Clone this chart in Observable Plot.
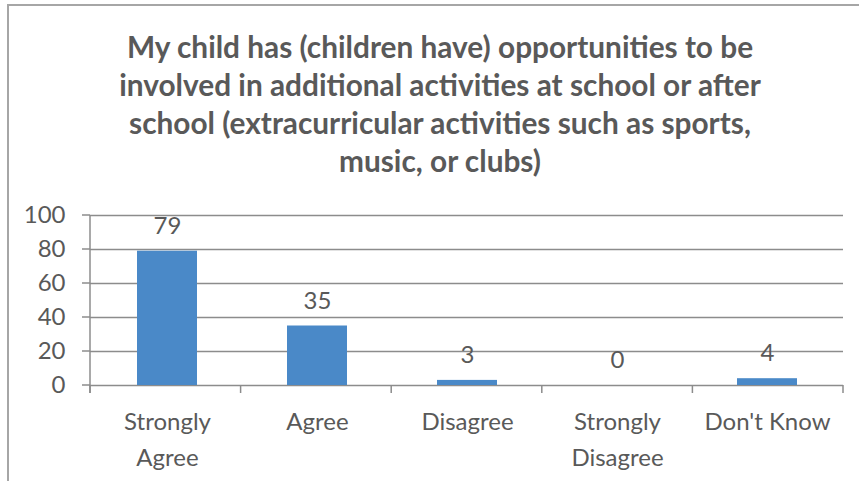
<!DOCTYPE html>
<html>
<head>
<meta charset="utf-8">
<script src="https://cdn.jsdelivr.net/npm/d3@7"></script>
<script src="https://cdn.jsdelivr.net/npm/@observablehq/plot@0.6"></script>
<style>
  html, body { margin: 0; padding: 0; background: #fff; }
  #wrap { position: relative; width: 859px; height: 481px; overflow: hidden; font-family: Lato, "Open Sans", sans-serif; }
  #border { position: absolute; left: 7px; top: 4px; width: 900px; height: 600px; border-left: 2px solid #a6a6a6; border-top: 2px solid #a6a6a6; box-sizing: border-box; }
  #title { position: absolute; left: 20px; width: 840px; top: 28px; text-align: center; color: #595959; font-weight: bold; font-size: 29.8px; line-height: 38px; white-space: nowrap; }
  #chart { position: absolute; left: 0; top: 0; }
</style>
</head>
<body>
<div id="wrap">
  <div id="border"></div>
  <div id="chart"></div>
  <div id="title"></div>
</div>
<script>
const titleLines = [
  "My child has (children have) opportunities to be",
  "involved in additional activities at school or after",
  "school (extracurricular activities such as sports,",
  "music, or clubs)"
];
const categories = ["Strongly Agree", "Agree", "Disagree", "Strongly Disagree", "Don't Know"];
const categoryLabels = ["Strongly\nAgree", "Agree", "Disagree", "Strongly\nDisagree", "Don't Know"];
const values = [79, 35, 3, 0, 4];
const yTicks = [0, 20, 40, 60, 80, 100];

document.getElementById("title").innerHTML = titleLines.map(t => `<div>${t}</div>`).join("");

const data = categories.map((c, i) => ({category: c, label: categoryLabels[i], value: values[i]}));

const gray = "#8c8c8c";
const textColor = "#595959";

// y-axis line, y ticks and x boundary ticks, drawn from the scales
const frameLines = (index, scales, values_, dims) => {
  const g = d3.create("svg:g");
  const x = scales.x, y = scales.y;
  const step = (dims.width - dims.marginLeft - dims.marginRight) / categories.length;
  const y0 = y(0), yTop = y(yTicks[yTicks.length - 1]);
  g.append("line").attr("x1", dims.marginLeft).attr("x2", dims.marginLeft)
    .attr("y1", yTop).attr("y2", y0 + 8).attr("stroke", gray).attr("stroke-width", 1.5);
  for (const t of yTicks) {
    g.append("line").attr("x1", dims.marginLeft - 8).attr("x2", dims.marginLeft)
      .attr("y1", y(t)).attr("y2", y(t)).attr("stroke", gray).attr("stroke-width", 1.5);
  }
  const bounds = [dims.marginLeft, ...categories.map((c, i) => dims.marginLeft + step * (i + 1))];
  for (const b of bounds) {
    g.append("line").attr("x1", b).attr("x2", b).attr("y1", y0).attr("y2", y0 + 8)
      .attr("stroke", gray).attr("stroke-width", 1.5);
  }
  return g.node();
};

const plot = Plot.plot({
  width: 859,
  height: 481,
  marginLeft: 90,
  marginRight: 16,
  marginTop: 215,
  marginBottom: 96,
  style: {fontFamily: "Lato, 'Open Sans', sans-serif", background: "transparent", overflow: "visible"},
  x: {domain: categories, paddingInner: 0.6, paddingOuter: 0.3, axis: null},
  y: {domain: [0, 100], axis: null},
  marks: [
    Plot.ruleY(yTicks, {stroke: gray, strokeWidth: 1.5, strokeOpacity: 1}),
    Plot.text(yTicks, {y: d => d, text: d => String(d), frameAnchor: "left", textAnchor: "end", dx: -25, fontSize: 24, fill: textColor}),
    Plot.barY(data, {x: "category", y: "value", fill: "#4a89c8"}),
    frameLines,
    Plot.text(data, {x: "category", y: "value", text: d => String(d.value), dy: -25, fontSize: 24, fill: textColor}),
    Plot.text(data, {x: "category", text: "label", frameAnchor: "bottom", lineAnchor: "top", dy: 19, lineHeight: 1.5, fontSize: 24, fill: textColor})
  ]
});
document.getElementById("chart").appendChild(plot);
</script>
</body>
</html>
